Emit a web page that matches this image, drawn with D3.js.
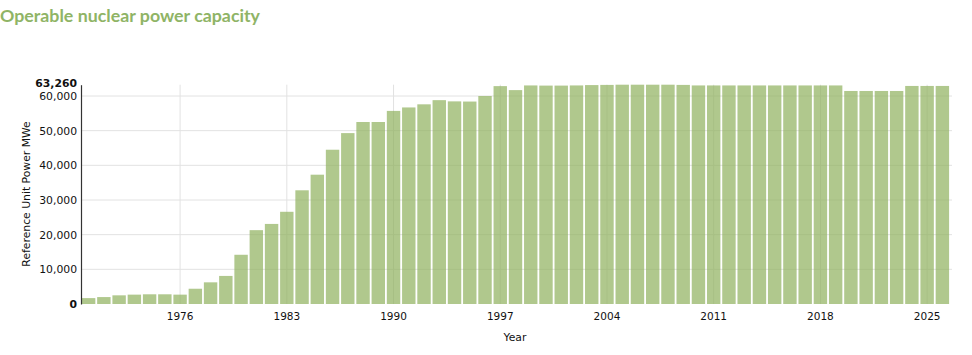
<!DOCTYPE html>
<html>
<head>
<meta charset="utf-8">
<script src="https://cdn.jsdelivr.net/npm/d3@7/dist/d3.min.js"></script>
<style>
  html, body { margin: 0; padding: 0; background: #fff; }
  svg { display: block; }
</style>
</head>
<body>
<svg id="chart" width="972" height="355"></svg>
<script>
const years = d3.range(1970, 2027);
const capacity = [
  1700, 2000, 2500, 2700, 2800, 2800, 2700, 4400, 6250, 8100,
  14200, 21300, 23100, 26600, 32800, 37300, 44500, 49300, 52500, 52500,
  55700, 56700, 57600, 58800, 58450, 58400, 60000, 62850, 61700, 63050,
  63000, 63000, 63050, 63150, 63200, 63260, 63260, 63260, 63260, 63200,
  63050, 63050, 63050, 63050, 63050, 63050, 63050, 63050, 63050, 63050,
  61450, 61450, 61450, 61450, 62900, 62900, 62900
];
const xTickYears = [1976, 1983, 1990, 1997, 2004, 2011, 2018, 2025];
const yTicks = [0, 10000, 20000, 30000, 40000, 50000, 60000];
const yMax = 63260;
const titleText = "Operable nuclear power capacity";
const yLabel = "Reference Unit Power MWe";
const xLabel = "Year";

const svg = d3.select("#chart");
const mLeft = 81, mRight = 950, mTop = 84.7, mBottom = 304;
const font = "'DejaVu Sans', sans-serif";

const x = d3.scaleBand().domain(years).range([mLeft, mRight]).paddingInner(0.12).paddingOuter(0.06);
const y = d3.scaleLinear().domain([0, yMax]).range([mBottom, mTop]);

// title
svg.append("text")
  .attr("x", 0).attr("y", 22)
  .attr("font-family", "Lato, 'Open Sans', sans-serif")
  .attr("font-weight", "bold")
  .attr("font-size", 17.8)
  .attr("fill", "#8fb466")
  .text(titleText);

// gridlines
const grid = svg.append("g");
grid.selectAll("line.h").data(yTicks.filter(d => d > 0)).join("line")
  .attr("x1", mLeft).attr("x2", mRight + 2)
  .attr("y1", d => y(d)).attr("y2", d => y(d))
  .attr("stroke", "#e2e2e2").attr("stroke-width", 1);
grid.selectAll("line.v").data(xTickYears).join("line")
  .attr("x1", d => x(d) + x.bandwidth() / 2).attr("x2", d => x(d) + x.bandwidth() / 2)
  .attr("y1", mTop).attr("y2", mBottom)
  .attr("stroke", "#e2e2e2").attr("stroke-width", 1);

// bars
svg.append("g").selectAll("rect").data(years).join("rect")
  .attr("x", d => x(d))
  .attr("width", x.bandwidth())
  .attr("y", (d, i) => y(capacity[i]))
  .attr("height", (d, i) => mBottom - y(capacity[i]))
  .attr("fill", "#8fb05c")
  .attr("fill-opacity", 0.7);

// y axis
const yAxis = svg.append("g").attr("transform", `translate(${mLeft},0)`)
  .call(d3.axisLeft(y).tickValues(yTicks.concat([yMax])).tickSize(0).tickPadding(4)
    .tickFormat(d3.format(",")));
yAxis.select(".domain").attr("stroke", "#333").attr("stroke-width", 1.2);
yAxis.selectAll("text")
  .attr("font-family", font).attr("font-size", 10.8).attr("fill", "#111")
  .attr("font-weight", d => (d === 0 || d === yMax) ? "bold" : "normal")
  .attr("dy", d => d === yMax ? "0.2em" : "0.32em");

// x axis (labels only)
const xAxis = svg.append("g").attr("transform", `translate(0,${mBottom})`)
  .call(d3.axisBottom(x).tickValues(xTickYears).tickSize(0).tickPadding(9));
xAxis.select(".domain").remove();
xAxis.selectAll("text").attr("font-family", font).attr("font-size", 10.5).attr("fill", "#111");

// axis labels
svg.append("text")
  .attr("transform", `translate(30,194) rotate(-90)`)
  .attr("text-anchor", "middle")
  .attr("font-family", font).attr("font-size", 10.8).attr("fill", "#111")
  .text(yLabel);
svg.append("text")
  .attr("x", 515).attr("y", 341)
  .attr("text-anchor", "middle")
  .attr("font-family", font).attr("font-size", 10.8).attr("fill", "#111")
  .text(xLabel);
</script>
</body>
</html>
